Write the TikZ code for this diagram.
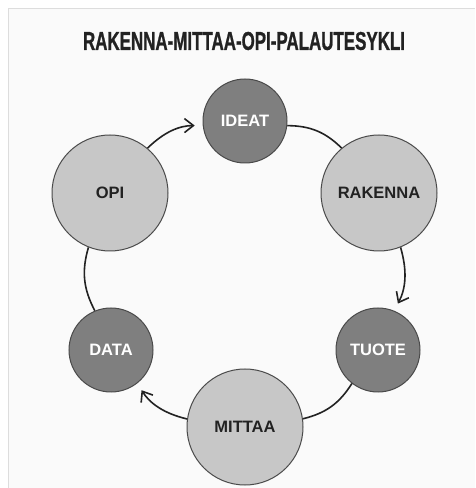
\documentclass[tikz,border=0pt]{standalone}
\usepackage{fontspec}
\setmainfont{Liberation Sans}
\newfontfamily\titlefont[FakeBold=1.2]{Liberation Sans Bold}
\usetikzlibrary{arrows.meta}
\definecolor{darkfill}{HTML}{7F7F7F}
\definecolor{lightfill}{HTML}{C7C7C7}
\definecolor{rim}{HTML}{4A4A4A}
\definecolor{ink}{HTML}{222222}
\definecolor{bg}{HTML}{FAFAFA}
\definecolor{frame}{HTML}{DDDDDD}
\begin{document}
\begin{tikzpicture}[x=1pt,y=1pt,
  bigc/.style={circle,draw=rim,line width=1pt,fill=lightfill,minimum size=116pt,inner sep=0pt,
    text=ink,font=\fontsize{16.5}{18}\selectfont\bfseries},
  smallc/.style={circle,draw=rim,line width=1pt,fill=darkfill,minimum size=84pt,inner sep=0pt,
    text=white,font=\fontsize{16.5}{18}\selectfont\bfseries},
  link/.style={draw=ink,line width=1.6pt,bend left=22},
  flow/.style={link,-{Straight Barb[length=9pt,width=14pt,line width=1.6pt]},shorten >=8pt}]
\useasboundingbox (0,0) rectangle (475,488);
\fill[white] (0,0) rectangle (475,488);
\fill[bg] (8,0) rectangle (475,480);
\draw[frame,line width=0.8pt] (8,0) -- (8,480) -- (475,480);
\node[ink] (title) at (244,447) {\resizebox{322pt}{18pt}{\titlefont RAKENNA-MITTAA-OPI-PALAUTESYKLI}};
\node[smallc] (ideat) at (245,367) {IDEAT};
\node[bigc] (rakenna) at (379,295) {RAKENNA};
\node[smallc] (tuote) at (378,138) {TUOTE};
\node[bigc] (mittaa) at (245,61) {MITTAA};
\node[smallc] (data) at (111,138) {DATA};
\node[bigc] (opi) at (110,295) {OPI};
\draw[link] (ideat) to (rakenna);
\draw[flow] (rakenna) to (tuote);
\draw[link] (tuote) to (mittaa);
\draw[flow] (mittaa) to (data);
\draw[link] (data) to (opi);
\draw[flow] (opi) to (ideat);
\end{tikzpicture}
\end{document}
